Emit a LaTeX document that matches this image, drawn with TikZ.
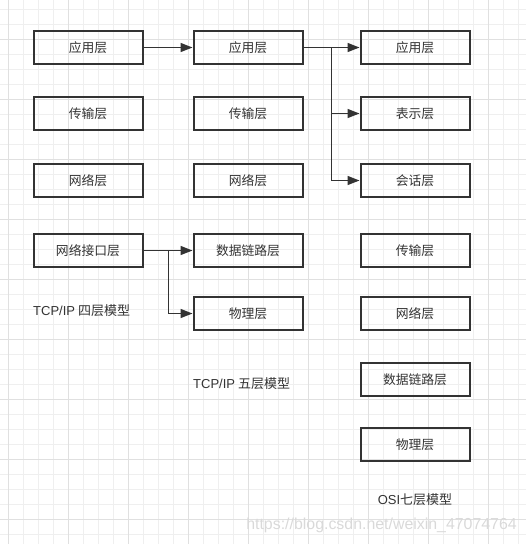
\documentclass[tikz,border=0pt]{standalone}
\usepackage{fontspec}
\setmainfont{Noto Sans CJK SC}
\newfontfamily\latinfont{Liberation Sans}
\usepackage{tikz}
\usetikzlibrary{arrows.meta,%
                positioning}
\definecolor{inkgray}{HTML}{333333}
\definecolor{gridminor}{HTML}{EFEFEF}
\definecolor{gridmajor}{HTML}{E0E0E0}

\begin{document}
\begin{tikzpicture}[x=1pt,y=-1pt]
  \tikzstyle{LayerStyle}=[draw=inkgray,line width=2pt,rectangle,
    minimum width=109pt,minimum height=32.5pt,inner sep=0pt,
    text=inkgray,font=\fontsize{12.8}{15}\selectfont]
  \tikzstyle{CaptionStyle}=[text=inkgray,font=\fontsize{13}{15}\selectfont,inner sep=0pt]
  \tikzstyle{EdgeStyle}=[draw=inkgray,line width=1.5pt,
    -{Triangle[length=12pt,width=9pt]}]
  \useasboundingbox (0,0) rectangle (526,544);
  % grid
  \foreach \g in {-7,8,...,526}
    \draw[gridminor,line width=0.8pt] (\g,0) -- (\g,544);
  \foreach \g in {-6,9,...,544}
    \draw[gridminor,line width=0.8pt] (0,\g) -- (526,\g);
  \foreach \g in {8,68,...,526}
    \draw[gridmajor,line width=0.8pt] (\g,0) -- (\g,544);
  \foreach \g in {39,99,...,544}
    \draw[gridmajor,line width=0.8pt] (0,\g) -- (526,\g);
  % TCP/IP four layers
  \node[LayerStyle] (A1) at (88,47.5) {应用层};
  \node[LayerStyle] (A2) at (88,113.5) {传输层};
  \node[LayerStyle] (A3) at (88,180.5) {网络层};
  \node[LayerStyle] (A4) at (88,250.5) {网络接口层};
  \node[CaptionStyle,anchor=west] (A) at (33,311) {{\latinfont TCP/IP} 四层模型};
  % TCP/IP five layers
  \node[LayerStyle] (B1) at (248,47.5) {应用层};
  \node[LayerStyle] (B2) at (248,113.5) {传输层};
  \node[LayerStyle] (B3) at (248,180.5) {网络层};
  \node[LayerStyle] (B4) at (248,250.5) {数据链路层};
  \node[LayerStyle] (B5) at (248,313.5) {物理层};
  \node[CaptionStyle,anchor=west] (B) at (193,383.5) {{\latinfont TCP/IP} 五层模型};
  % OSI seven layers
  \node[LayerStyle] (C1) at (415,47.5) {应用层};
  \node[LayerStyle] (C2) at (415,113.5) {表示层};
  \node[LayerStyle] (C3) at (415,180.5) {会话层};
  \node[LayerStyle] (C4) at (415,250.5) {传输层};
  \node[LayerStyle] (C5) at (415,313.5) {网络层};
  \node[LayerStyle] (C6) at (415,379.5) {数据链路层};
  \node[LayerStyle] (C7) at (415,444.5) {物理层};
  \node[CaptionStyle] (C) at (415,499.5) {{\latinfont OSI}七层模型};
  % edges
  \draw[EdgeStyle] (A1) -- (B1);
  \draw[EdgeStyle] (B1) -- (C1);
  \draw[EdgeStyle] (B1.east) -- +(28,0) |- (C2);
  \draw[EdgeStyle] (B1.east) -- +(28,0) |- (C3);
  \draw[EdgeStyle] (A4) -- (B4);
  \draw[EdgeStyle] (A4.east) -- +(25,0) |- (B5);
  % watermark
  \node[anchor=east,inner sep=0pt,text=black!15,font=\latinfont\fontsize{15.9}{18}\selectfont] (W) at (517,525.5) {https://blog.csdn.net/weixin\_47074764};
\end{tikzpicture}
\end{document}
